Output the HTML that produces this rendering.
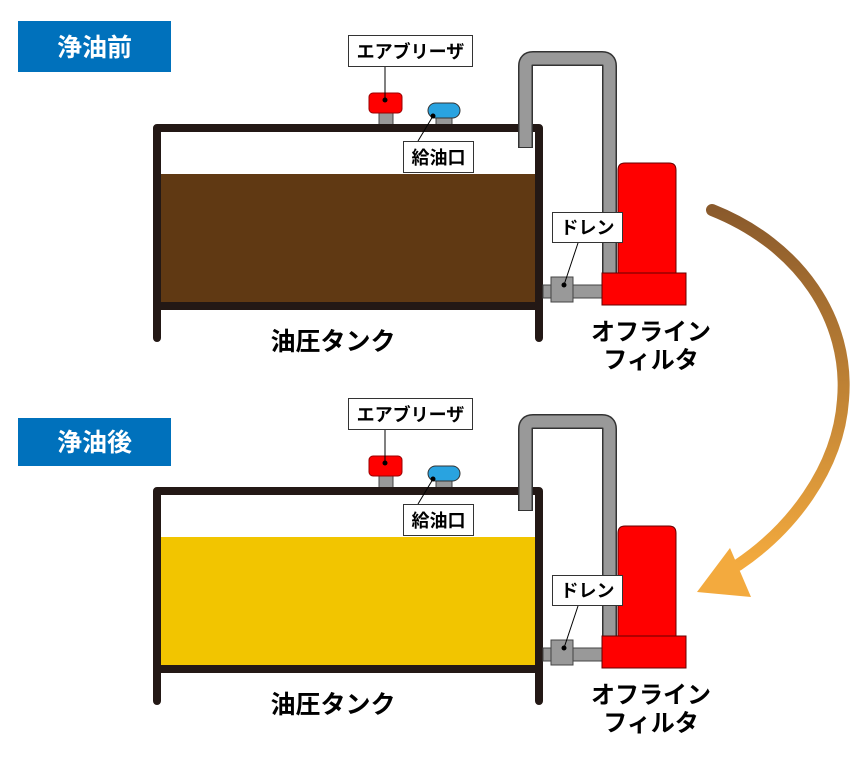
<!DOCTYPE html>
<html><head><meta charset="utf-8"><style>
html,body{margin:0;padding:0;background:#fff;}
svg{display:block;}
text{font-family:"Liberation Sans","Noto Sans CJK JP",sans-serif;font-weight:bold;}
</style></head><body>
<svg width="860" height="760" viewBox="0 0 860 760" xmlns="http://www.w3.org/2000/svg">
<defs>
<linearGradient id="ag" x1="0" y1="0" x2="0" y2="1">
<stop offset="0" stop-color="#8a5a2c"/><stop offset="1" stop-color="#f3aa3e"/>
</linearGradient>
<g id="unit">
  <rect x="379" y="111" width="14" height="14" fill="#999" stroke="#444" stroke-width="1"/>
  <rect x="369" y="93" width="33" height="20" rx="4" fill="#f00" stroke="#900" stroke-width="1"/>
  <rect x="436" y="115" width="16" height="10" fill="#999" stroke="#444" stroke-width="1"/>
  <rect x="428" y="103" width="32" height="15" rx="7.5" fill="#29a3e0" stroke="#333" stroke-width="1"/>
  <path d="M157 338 V128 H539 V338" fill="none" stroke="#231815" stroke-width="8" stroke-linejoin="round" stroke-linecap="round"/>
  <rect x="161" y="302" width="374" height="8" fill="#231815"/>
  <path d="M525.5 148 V66 Q525.5 58.5 533 58.5 H602 Q609.5 58.5 609.5 66 V273" fill="none" stroke="#333" stroke-width="15"/>
  <path d="M525.5 147 V66 Q525.5 58.5 533 58.5 H602 Q609.5 58.5 609.5 66 V274" fill="none" stroke="#999" stroke-width="12"/>
  <rect x="543" y="285" width="60" height="13" fill="#999" stroke="#444" stroke-width="1"/>
  <rect x="551" y="277" width="22" height="25" fill="#999" stroke="#444" stroke-width="1"/>
  <path d="M618 273 V170 Q618 163 625 163 H669 Q676 163 676 170 V273 Z" fill="#f00" stroke="#600" stroke-width="1"/>
  <rect x="602" y="273" width="84" height="32" fill="#f00" stroke="#600" stroke-width="1"/>
  <line x1="385" y1="67" x2="385" y2="100" stroke="#000" stroke-width="1"/><circle cx="385" cy="100" r="2.5"/>
  <line x1="418" y1="141" x2="433" y2="116" stroke="#000" stroke-width="1"/><circle cx="433" cy="116" r="2.5"/>
  <line x1="578" y1="243" x2="564" y2="285" stroke="#000" stroke-width="1"/><circle cx="564" cy="285" r="2.5"/>
  <rect x="348.5" y="35.5" width="124" height="31" fill="#fff" stroke="#333"/>
  <text x="410.5" y="58" font-size="18" text-anchor="middle">エアブリーザ</text>
  <rect x="403.5" y="141.5" width="70" height="31" fill="#fff" stroke="#333"/>
  <text x="438.5" y="164" font-size="18" text-anchor="middle">給油口</text>
  <rect x="552.5" y="212.5" width="70" height="30" fill="#fff" stroke="#333"/>
  <text x="587.5" y="234" font-size="18" text-anchor="middle">ドレン</text>
  <text x="333" y="350" font-size="25" text-anchor="middle">油圧タンク</text>
  <text x="651" y="340" font-size="24" text-anchor="middle">オフライン</text>
  <text x="651" y="368" font-size="24" text-anchor="middle">フィルタ</text>
</g>
</defs>
<rect x="18" y="21" width="153" height="51" fill="#0071bc"/>
<text x="94.5" y="56" font-size="25" fill="#fff" text-anchor="middle">浄油前</text>
<rect x="161" y="174" width="374" height="128" fill="#603913"/>
<use href="#unit"/>
<rect x="18" y="418" width="153" height="48" fill="#0071bc"/>
<text x="94.5" y="451" font-size="25" fill="#fff" text-anchor="middle">浄油後</text>
<rect x="161" y="537" width="374" height="128" fill="#f2c500"/>
<use href="#unit" transform="translate(0,363)"/>
<path d="M712 210 C800 245 850 320 843 400 C838 470 790 530 738 565" fill="none" stroke="url(#ag)" stroke-width="12" stroke-linecap="round"/>
<polygon points="697,592 730,548 751,597" fill="#f3aa3e"/>
</svg>
</body></html>
